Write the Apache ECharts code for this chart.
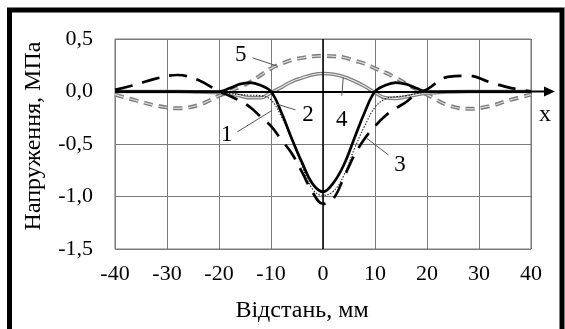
<!DOCTYPE html>
<html>
<head>
<meta charset="utf-8">
<script src="https://cdn.jsdelivr.net/npm/echarts@6/dist/echarts.min.js"></script>
<style>
  html, body { margin: 0; padding: 0; background: #fff; }
  #chart { width: 565px; height: 329px; }
</style>
</head>
<body>
<div id="chart"></div>
<script>
// відстань, мм
var xs = [-40, -36, -32, -28, -24, -20, -18, -16, -14, -12, -10, -8, -6, -4, -2, 0,
  2, 4, 6, 8, 10, 12, 14, 16, 18, 20, 24, 28, 32, 36, 40];

// напруження, МПа (криві 1..5)
var curve1 = [0, 0, 0, 0, 0, 0, 0.03, 0.07, 0.085, 0.06, 0, -0.2, -0.45, -0.68, -0.88, -0.955,
  -0.87, -0.7, -0.45, -0.2, 0, 0.06, 0.085, 0.07, 0.03, 0, 0, 0, 0, 0, 0];
var curve2 = [0, 0, 0, -0.005, -0.01, -0.01, -0.02, -0.03, -0.035, -0.04, -0.08, -0.24, -0.46, -0.71, -0.93, -0.99,
  -0.95, -0.8, -0.55, -0.33, -0.15, -0.07, -0.05, -0.04, -0.02, -0.01, -0.01, -0.005, 0, 0, 0];
var curve3 = [0.015, 0.065, 0.125, 0.157, 0.11, 0, -0.04, -0.09, -0.15, -0.24, -0.33, -0.46, -0.59, -0.77, -0.96, -1.07,
  -1.02, -0.82, -0.61, -0.45, -0.33, -0.23, -0.16, -0.1, -0.02, 0.02, 0.14, 0.15, 0.09, 0.035, 0];
var curve4 = [0, 0, 0, 0, -0.005, -0.01, -0.02, -0.04, -0.06, -0.06, -0.01, 0.04, 0.095, 0.13, 0.16, 0.172,
  0.165, 0.14, 0.1, 0.05, -0.01, -0.06, -0.065, -0.05, -0.03, -0.015, -0.005, 0, 0, 0, 0];
var curve5 = [-0.03, -0.085, -0.135, -0.16, -0.13, -0.04, 0, 0.045, 0.09, 0.155, 0.22, 0.265, 0.3, 0.32, 0.335, 0.34,
  0.335, 0.325, 0.295, 0.265, 0.22, 0.18, 0.13, 0.075, 0.02, -0.03, -0.13, -0.165, -0.14, -0.08, -0.03];

var xTicks = { min: -40, max: 40, step: 10 };
var yTicks = { min: -1.5, max: 0.5, step: 0.5 };

// підписи кривих: текст, позиція тексту, виносна лінія (в координатах даних)
var notes = [
  { text: '5', at: [-15.8, 0.35], from: [-13.5, 0.32], to: [-8.7, 0.24] },
  { text: '2', at: [-2.9, -0.225], from: [-8.9, -0.12], to: [-5.3, -0.175] },
  { text: '1', at: [-18.5, -0.41], from: [-16.5, -0.385], to: [-9.8, -0.18] },
  { text: '4', at: [3.6, -0.27], from: [3.6, -0.04], to: [3.9, 0.135] },
  { text: '3', at: [14.8, -0.7], from: [8.4, -0.445], to: [12.6, -0.605] }
];

var FONT = 'Liberation Serif';

function pairs(ys) {
  return xs.map(function (x, i) { return [x, ys[i]]; });
}

function line(data, color, width, type, z) {
  return {
    type: 'line',
    data: pairs(data),
    smooth: 0.4,
    showSymbol: false,
    silent: true,
    z: z,
    lineStyle: { color: color, width: width, type: type, cap: 'butt' }
  };
}

var chart = echarts.init(document.getElementById('chart'));

var option = {
  backgroundColor: '#fff',
  animation: false,
  grid: {
    left: 115, right: 34, top: 39, bottom: 80,
    show: true, borderColor: '#7a7a7a', borderWidth: 1
  },
  xAxis: {
    type: 'value',
    min: xTicks.min, max: xTicks.max, interval: xTicks.step,
    axisLine: { show: false },
    axisTick: { show: false },
    splitLine: { lineStyle: { color: '#7a7a7a', width: 1 } },
    axisLabel: { color: '#000', fontFamily: FONT, fontSize: 22, margin: 14 },
    name: 'Відстань, мм',
    nameLocation: 'middle',
    nameGap: 50,
    nameTextStyle: { color: '#000', fontFamily: FONT, fontSize: 24, padding: [0, 42, 0, 0] }
  },
  yAxis: {
    type: 'value',
    min: yTicks.min, max: yTicks.max, interval: yTicks.step,
    axisLine: { show: false },
    axisTick: { show: false },
    splitLine: { lineStyle: { color: '#7a7a7a', width: 1 } },
    axisLabel: {
      color: '#000', fontFamily: FONT, fontSize: 22, margin: 22,
      formatter: function (v) { return v.toFixed(1).replace('.', ','); }
    },
    name: 'Напруження, МПа',
    nameLocation: 'middle',
    nameGap: 69,
    nameTextStyle: { color: '#000', fontFamily: FONT, fontSize: 24, padding: [0, 0, 0, 16] }
  },
  series: [
    line(curve5, '#7d7d7d', 4, [9, 6], 1),
    line(curve5, '#d9d9d9', 1.2, [9, 6], 2),
    line(curve4, '#7d7d7d', 3.6, 'solid', 3),
    line(curve4, '#f0f0f0', 1.1, 'solid', 4),
    line(curve3, '#000', 2.7, [18, 10], 5),
    line(curve2, '#222', 1.1, [1.5, 1.5], 6),
    line(curve1, '#000', 2.7, 'solid', 7),
    {
      type: 'line',
      data: [],
      silent: true,
      markLine: {
        silent: true,
        symbol: 'none',
        label: { show: false },
        data: [
          { xAxis: 0, lineStyle: { color: '#000', width: 1.5, type: 'solid' } },
          { yAxis: 0, lineStyle: { color: '#000', width: 2, type: 'solid' } }
        ]
      }
    }
  ]
};

chart.setOption(option);

// рамка, стрілка осі x та підписи кривих
var g = [];
g.push({
  type: 'rect', silent: true, z: 100,
  shape: { x: 9.5, y: 10, width: 552.5, height: 400 },
  style: { fill: 'none', stroke: '#000', lineWidth: 5 }
});

var end = chart.convertToPixel({ gridIndex: 0 }, [xTicks.max, 0]);
g.push({
  type: 'line', silent: true, z: 50,
  shape: { x1: end[0], y1: end[1], x2: end[0] + 16, y2: end[1] },
  style: { stroke: '#000', lineWidth: 2 }
});
g.push({
  type: 'polygon', silent: true, z: 50,
  shape: { points: [[end[0] + 24, end[1]], [end[0] + 13, end[1] - 5], [end[0] + 13, end[1] + 5]] },
  style: { fill: '#000' }
});
g.push({
  type: 'text', silent: true, z: 50,
  x: end[0] + 14, y: end[1] + 23,
  style: { text: 'x', font: '24px "Liberation Serif"', fill: '#000', align: 'center', verticalAlign: 'middle' }
});

notes.forEach(function (n) {
  var p = chart.convertToPixel({ gridIndex: 0 }, n.at);
  var a = chart.convertToPixel({ gridIndex: 0 }, n.from);
  var b = chart.convertToPixel({ gridIndex: 0 }, n.to);
  g.push({
    type: 'line', silent: true, z: 40,
    shape: { x1: a[0], y1: a[1], x2: b[0], y2: b[1] },
    style: { stroke: '#555', lineWidth: 1 }
  });
  g.push({
    type: 'text', silent: true, z: 40,
    x: p[0], y: p[1],
    style: { text: n.text, font: '23px "Liberation Serif"', fill: '#000', align: 'center', verticalAlign: 'middle' }
  });
});

chart.setOption({ graphic: g });
</script>
</body>
</html>
